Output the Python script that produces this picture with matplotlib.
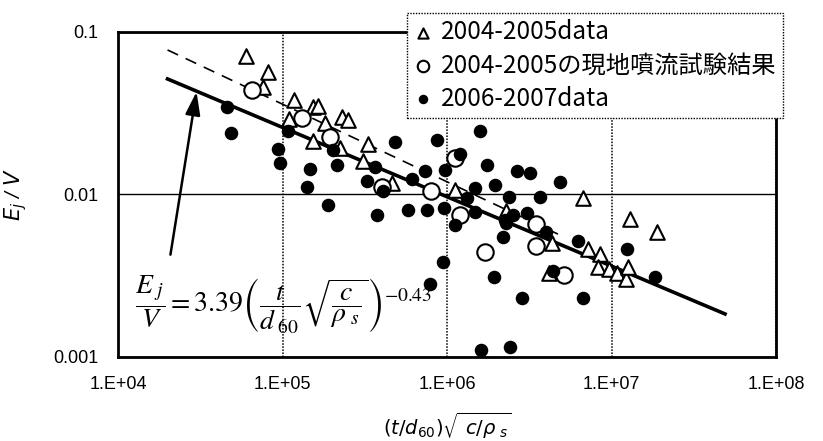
import numpy as np
import matplotlib
matplotlib.use("Agg")
import matplotlib.pyplot as plt

# 2004-2005 data (triangles)
tri_x = [6.0e4, 8.2e4, 7.6e4, 1.17e5, 1.10e5, 1.53e5, 1.64e5, 1.81e5, 2.30e5, 2.50e5,
         1.53e5, 2.24e5, 3.31e5, 3.08e5, 4.63e5, 1.12e6, 2.29e6, 6.7e6, 4.35e6, 4.17e6,
         7.2e6, 8.5e6, 8.3e6, 9.7e6, 1.08e7, 1.22e7, 1.26e7, 1.29e7, 1.89e7]
tri_y = [0.071, 0.057, 0.046, 0.038, 0.029, 0.0345, 0.035, 0.0275, 0.030, 0.0287,
         0.0213, 0.0193, 0.0205, 0.0161, 0.0118, 0.0107, 0.0079, 0.0095, 0.0050, 0.0033,
         0.0046, 0.0043, 0.0036, 0.0035, 0.0033, 0.0030, 0.0036, 0.0071, 0.0059]

# 2004-2005 現地噴流試験結果 (open circles)
circ_x = [6.5e4, 1.31e5, 1.94e5, 4.03e5, 8.0e5, 1.12e6, 1.20e6, 1.70e6, 3.48e6, 3.48e6, 5.14e6]
circ_y = [0.044, 0.0296, 0.0226, 0.0111, 0.0105, 0.0168, 0.0075, 0.0044, 0.0066, 0.0048, 0.0032]

# 2006-2007 data (filled circles)
dot_x = [4.6e4, 4.87e4, 1.08e5, 9.4e4, 9.7e4, 1.47e5, 2.14e5, 1.41e5, 2.03e5, 1.89e5,
         3.65e5, 4.83e5, 6.12e5, 3.26e5, 4.08e5, 7.35e5, 3.75e5, 5.79e5, 7.55e5, 9.6e5,
         9.46e5, 7.88e5, 8.7e5, 1.59e6, 1.20e6, 9.7e5, 1.75e6, 2.67e6, 3.20e6, 4.86e6,
         1.48e6, 1.96e6, 2.38e6, 3.67e6, 1.32e6, 1.48e6, 1.12e6, 2.25e6, 2.52e6, 3.06e6,
         2.19e6, 2.29e6, 4.0e6, 4.41e6, 6.25e6, 1.93e6, 2.86e6, 6.7e6, 1.24e7, 1.84e7,
         1.61e6, 2.42e6]
dot_y = [0.0345, 0.0239, 0.0246, 0.0191, 0.0156, 0.0144, 0.0152, 0.0111, 0.0188, 0.0086,
         0.0148, 0.0210, 0.0125, 0.0121, 0.0105, 0.0140, 0.0075, 0.0080, 0.0080, 0.0082,
         0.00385, 0.0028, 0.0216, 0.0246, 0.0178, 0.0142, 0.0152, 0.0140, 0.0136, 0.0119,
         0.0110, 0.0114, 0.0097, 0.0097, 0.0095, 0.0078, 0.0065, 0.0070, 0.0075, 0.0077,
         0.0055, 0.0067, 0.0059, 0.0034, 0.0052, 0.0031, 0.0023, 0.0023, 0.0046, 0.0031,
         0.0011, 0.00115]

# fit line (solid) and upper line (dashed)
fit_x = [2.0e4, 4.9e7]
fit_y = [0.0514, 0.00184]
dash_x = [2.0e4, 5.1e6]
dash_y = [0.0775, 0.0055]

# arrow from equation to fit line
arrow_tail = (2.07e4, 0.0041)
arrow_tip = (3.02e4, 0.0446)

x_ticks = [1e4, 1e5, 1e6, 1e7, 1e8]
x_labels = ["1.E+04", "1.E+05", "1.E+06", "1.E+07", "1.E+08"]
y_ticks = [0.001, 0.01, 0.1]
y_labels = ["0.001", "0.01", "0.1"]

plt.rcParams['font.family'] = ['Liberation Sans', 'DejaVu Sans']

fig = plt.figure(figsize=(8.23, 4.41), dpi=100)
ax = fig.add_axes([0.1434, 0.1905, 0.7995, 0.7370])
ax.set_xscale('log')
ax.set_yscale('log')
ax.set_xlim(1e4, 1e8)
ax.set_ylim(1e-3, 1e-1)

ax.set_xticks(x_ticks)
ax.set_xticklabels(x_labels)
ax.set_yticks(y_ticks)
ax.set_yticklabels(y_labels)
ax.minorticks_off()
ax.tick_params(length=0, labelsize=13, pad=14)

ax.xaxis.grid(True, linestyle=(0, (1, 1)), color='k', lw=1.1)
ax.yaxis.grid(True, linestyle='-', color='k', lw=1.0)
ax.set_axisbelow(True)
for s in ax.spines.values():
    s.set_linewidth(2)

ax.plot(dash_x, dash_y, color='k', lw=1.2, ls=(0, (7, 5)), zorder=2)
ax.plot(fit_x, fit_y, color='k', lw=2.6, zorder=2)

h_tri = ax.scatter(tri_x, tri_y, marker='^', s=110, facecolors='white', edgecolors='k',
                   linewidths=1.5, zorder=3)
h_circ = ax.scatter(circ_x, circ_y, marker='o', s=140, facecolors='white', edgecolors='k',
                    linewidths=1.5, zorder=3)
h_dot = ax.scatter(dot_x, dot_y, marker='o', s=95, facecolors='k', edgecolors='k',
                   linewidths=0, zorder=4)

ax.annotate('', xy=arrow_tip, xytext=arrow_tail,
            arrowprops=dict(arrowstyle='-|>,head_length=1.4,head_width=0.45',
                            color='k', lw=1.8), zorder=5)

ax.text(0.026, 0.16,
        r'$\dfrac{E_{\ j}}{V}=3.39\left(\dfrac{t}{d_{\ 60}}\sqrt{\dfrac{c}{\rho_{\ s}}}\right)^{-0.43}$',
        transform=ax.transAxes, ha='left', va='center', fontsize=20,
        math_fontfamily='stix', zorder=5)

ax.set_ylabel(r'$E_j$ / $V$', fontsize=15, math_fontfamily='dejavusans', style='italic')
ax.yaxis.set_label_coords(-0.135, 0.5)
ax.set_xlabel(r'$(t/d_{60})\sqrt{\ c/\rho_{\ s}}$', fontsize=14,
              math_fontfamily='dejavusans')
ax.xaxis.set_label_coords(0.5, -0.165)

leg = fig.legend([h_tri, h_circ, h_dot],
                 ["2004-2005data", "2004-2005の現地噴流試験結果", "2006-2007data"],
                 loc='upper left', bbox_to_anchor=(0.4945, 0.9705),
                 prop={'family': ['Noto Sans CJK JP', 'DejaVu Sans'], 'size': 17.5},
                 fancybox=False, framealpha=1, edgecolor='k', markerscale=0.7,
                 handlelength=0.8, handletextpad=0.35, labelspacing=0.3,
                 borderpad=0.25, borderaxespad=0)
leg.get_frame().set_linestyle((0, (1, 1)))
leg.get_frame().set_linewidth(1.0)
leg.set_zorder(10)

fig.savefig('out.png', dpi=100)
